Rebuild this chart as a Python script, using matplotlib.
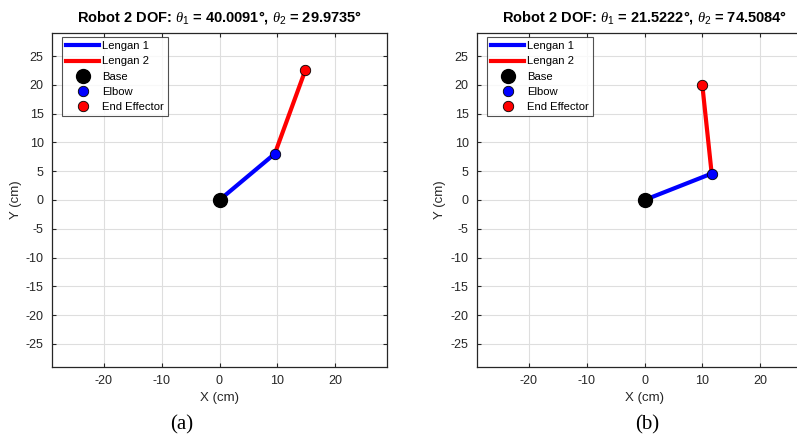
import matplotlib
matplotlib.use("Agg")
import matplotlib.pyplot as plt

plt.rcParams['font.family'] = ['Liberation Sans', 'DejaVu Sans']
plt.rcParams['mathtext.fontset'] = 'custom'
plt.rcParams['mathtext.it'] = 'Liberation Serif:italic'
plt.rcParams['mathtext.rm'] = 'Liberation Sans'
plt.rcParams['mathtext.bf'] = 'Liberation Sans:bold'
plt.rcParams['axes.unicode_minus'] = False

# Data
theta1 = ["40.0091", "21.5222"]
theta2 = ["29.9735", "74.5084"]
base_x = [0.0, 0.0]
base_y = [0.0, 0.0]
elbow_x = [9.58, 11.63]
elbow_y = [8.04, 4.59]
end_x = [14.88, 10.0]
end_y = [22.6, 20.05]
panel_labels = ["(a)", "(b)"]
xticks = [-20, -10, 0, 10, 20]
yticks = [-25, -20, -15, -10, -5, 0, 5, 10, 15, 20, 25]
lim = 29

W, H = 797, 442
fig = plt.figure(figsize=(W / 100, H / 100), dpi=100)

axes_px = [(52, 33, 335, 334), (477, 33, 335, 334)]
label_px = [182, 647]
txt = '#262626'

for i in range(2):
    x0, ytop, w, h = axes_px[i]
    ax = fig.add_axes([x0 / W, (H - ytop - h) / H, w / W, h / H])
    l1, = ax.plot([base_x[i], elbow_x[i]], [base_y[i], elbow_y[i]], color='blue', lw=3, label='Lengan 1', zorder=3)
    l2, = ax.plot([elbow_x[i], end_x[i]], [elbow_y[i], end_y[i]], color='red', lw=3, label='Lengan 2', zorder=3)
    b, = ax.plot(base_x[i], base_y[i], 'o', color='black', mec='black', ms=10, lw=0, label='Base', zorder=4)
    e, = ax.plot(elbow_x[i], elbow_y[i], 'o', color='blue', mec='black', mew=0.6, ms=7.5, lw=0, label='Elbow', zorder=4)
    f, = ax.plot(end_x[i], end_y[i], 'o', color='red', mec='black', mew=0.6, ms=7.5, lw=0, label='End Effector', zorder=4)
    ax.set_xlim(-lim, lim)
    ax.set_ylim(-lim, lim)
    ax.set_xticks(xticks)
    ax.set_yticks(yticks)
    ax.grid(True, color='#dedede', lw=0.8)
    ax.set_axisbelow(True)
    ax.tick_params(direction='in', top=True, right=True, labelsize=9, colors=txt, length=3, width=0.8, pad=6)
    for s in ax.spines.values():
        s.set_color(txt)
        s.set_linewidth(0.9)
    ax.set_xlabel('X (cm)', fontsize=9.5, color=txt, labelpad=3)
    ax.set_ylabel('Y (cm)', fontsize=9.5, color=txt, labelpad=3)
    ax.set_title(r'Robot 2 DOF: $\theta_1$ = ' + theta1[i] + r'°, $\theta_2$ = ' + theta2[i] + '°',
                 fontsize=10.5, fontweight='bold', color='black', pad=8)
    leg = ax.legend(handles=[l1, l2, b, e, f], loc='upper left', fontsize=8.1, frameon=True,
                    fancybox=False, borderpad=0.38, labelspacing=0.46, handlelength=2.9,
                    handletextpad=0.25, borderaxespad=0.0,
                    bbox_to_anchor=(10 / w, 1 - 4 / h))
    leg.get_frame().set_edgecolor('#262626')
    leg.get_frame().set_linewidth(0.8)
    fig.text(label_px[i] / W, 1 - 425 / H, panel_labels[i], fontsize=15,
             family='Liberation Serif', ha='center', va='center')

fig.savefig('out.png', dpi=100)
